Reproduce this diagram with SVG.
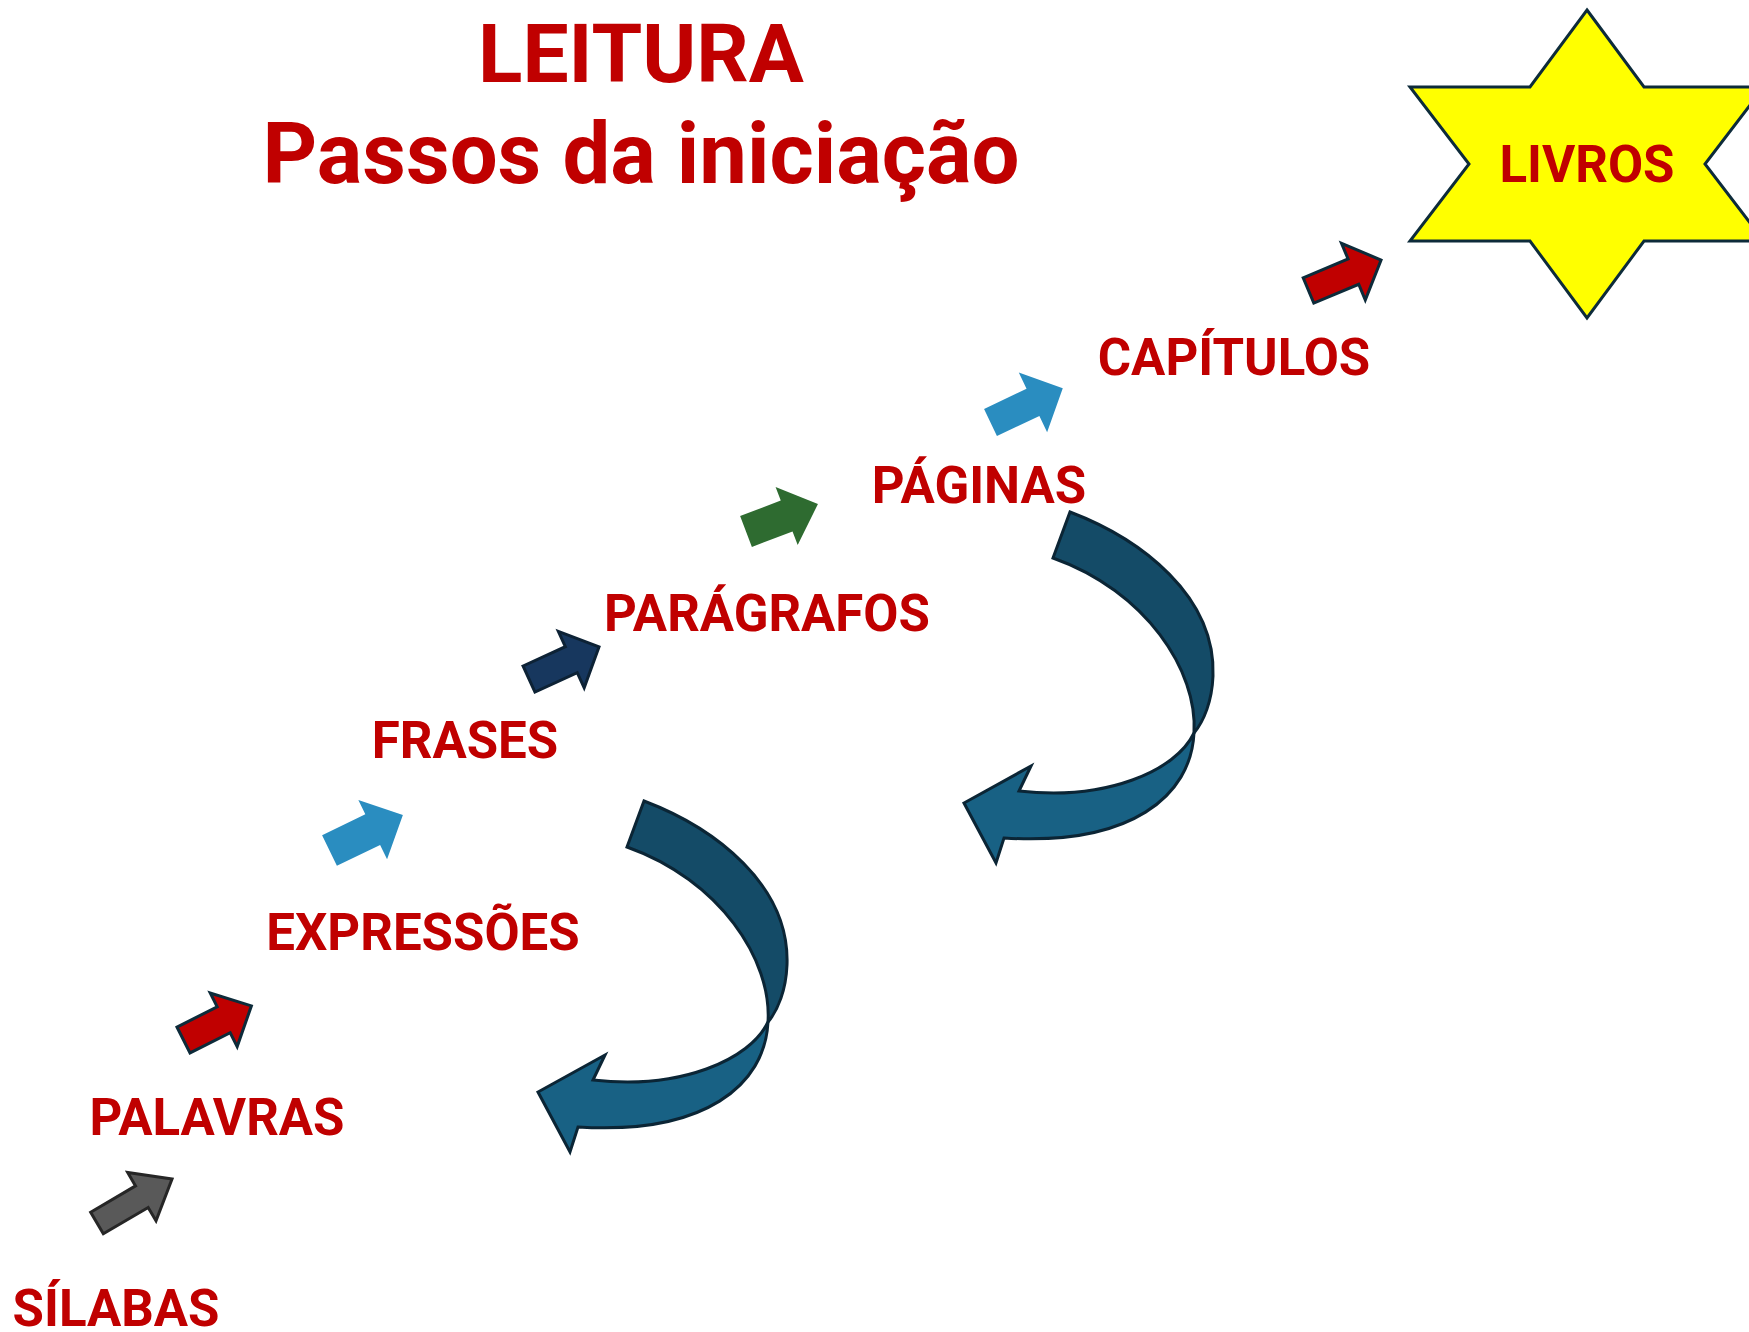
<svg xmlns="http://www.w3.org/2000/svg" xmlns:xlink="http://www.w3.org/1999/xlink" width="1749" height="1332" viewBox="0 0 1749 1332">
<style>
.t{font-family:Roboto,"Liberation Sans",Arial,sans-serif;font-weight:700;fill:#C00000;text-anchor:middle}
.title{font-size:82px}
.sub{font-size:85px}
.lbl{font-size:51px}
.cu{fill:#144B67;stroke:#0B2535;stroke-width:3;stroke-linejoin:miter}
.cl{fill:#186184;stroke:#0B2535;stroke-width:3;stroke-linejoin:miter}
</style>
<defs>
<g id="curve">
<path class="cu" d="M644,801 C715,828 790,885 787,965 C786,990 778,1010 768,1022 C772,960 720,880 627,847 Z"/>
<path class="cl" d="M768,1022 C765,1085 705,1135 578,1127 L570,1152 L538,1092 L605,1055 L593,1080 C680,1090 750,1060 768,1022 Z"/>
</g>
</defs>
<rect width="1749" height="1332" fill="#FFFFFF"/>
<g id="title">
<text class="t title" x="641" y="82">LEITURA</text>
<text class="t sub" x="641" y="183">Passos da iniciação</text>
</g>
<g id="livros">
<polygon points="1587,10 1644,87 1764,87 1705,164 1764,241 1644,241 1587,318 1530,241 1410,241 1469,164 1410,87 1530,87" fill="#FFFF00" stroke="#0D2B3A" stroke-width="3"/>
<text class="t lbl" x="1587" y="182">LIVROS</text>
</g>
<g id="silabas"><text class="t lbl" x="116" y="1326">SÍLABAS</text></g>
<g id="palavras"><text class="t lbl" x="217" y="1135">PALAVRAS</text></g>
<g id="expressoes"><text class="t lbl" x="423" y="950">EXPRESSÕES</text></g>
<g id="frases"><text class="t lbl" x="465" y="758">FRASES</text></g>
<g id="paragrafos"><text class="t lbl" x="767" y="631">PARÁGRAFOS</text></g>
<g id="paginas"><text class="t lbl" x="979" y="503">PÁGINAS</text></g>
<g id="capitulos"><text class="t lbl" x="1234" y="375">CAPÍTULOS</text></g>
<g id="connectors">
<polygon transform="translate(97,1223) rotate(-30.4)" points="0,-12.5 52,-12.5 52,-28 87,0 52,28 52,12.5 0,12.5" fill="#595959" stroke="#262626" stroke-width="3"/>
<polygon transform="translate(183.5,1040) rotate(-26.7)" points="0,-14.5 45,-14.5 45,-30 76,0 45,30 45,14.5 0,14.5" fill="#C00000" stroke="#0D2B3A" stroke-width="3"/>
<polygon transform="translate(329.5,850.5) rotate(-25.8)" points="0,-17 48,-17 48,-33 81.5,0 48,33 48,17 0,17" fill="#2A8DC0"/>
<polygon transform="translate(529,679) rotate(-24.6)" points="0,-14.3 46.5,-14.3 46.5,-31 77,0 46.5,31 46.5,14.3 0,14.3" fill="#17375E" stroke="#0D2235" stroke-width="3"/>
<polygon transform="translate(746,531.5) rotate(-20.9)" points="0,-16.5 43.5,-16.5 43.5,-31 77,0 43.5,31 43.5,16.5 0,16.5" fill="#2E6B30"/>
<polygon transform="translate(990.5,422.5) rotate(-25.4)" points="0,-15 47,-15 47,-33 80,0 47,33 47,15 0,15" fill="#2A8DC0"/>
<polygon transform="translate(1308.5,290.5) rotate(-22.8)" points="0,-13.7 48.7,-13.7 48.7,-30.7 78.7,0 48.7,30.7 48.7,13.7 0,13.7" fill="#C00000" stroke="#0D2B3A" stroke-width="3"/>
<use xlink:href="#curve"/>
<use xlink:href="#curve" transform="translate(426,-289)"/>
</g>
</svg>
